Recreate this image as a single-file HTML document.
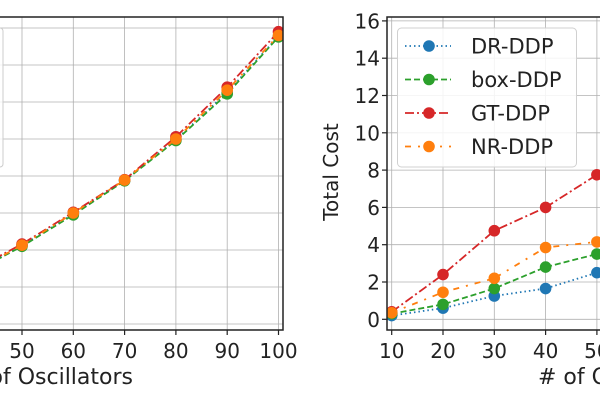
<!DOCTYPE html>
<html><head><meta charset="utf-8">
<style>
html,body{margin:0;padding:0;background:#fff;}
svg{display:block;font-family:"DejaVu Sans","Liberation Sans",sans-serif;}
</style></head>
<body>
<svg id="chart" width="600" height="403" viewBox="0 0 600 403" xmlns="http://www.w3.org/2000/svg">
<defs>
<clipPath id="clipL"><rect x="-60" y="17" width="343" height="313"/></clipPath>
<clipPath id="clipR"><rect x="387" y="17" width="300" height="313"/></clipPath>
</defs>
<g id="left"></g>
<g id="right"></g>
</svg>
<script>
// ---- data ----
const xCats = [10,20,30,40,50,60,70,80,90,100];
// left chart (values in gridline units, y-axis labels not visible)
const leftDR  = [0.2,0.5,0.9,1.38,2.12,2.97,3.88,4.98,6.26,7.78];
const leftBox = [0.2,0.5,0.9,1.36,2.1,2.95,3.87,4.96,6.22,7.76];
const leftGT  = [0.2,0.5,0.9,1.42,2.16,3.02,3.9,5.06,6.4,7.9];
const leftNR  = [0.2,0.5,0.9,1.38,2.13,3.0,3.89,5.0,6.32,7.8];
const leftXTicks = [40,50,60,70,80,90,100];
// right chart
const rightDR  = [0.2,0.6,1.25,1.65,2.5,3.2,4.0,4.8,5.6,6.5];
const rightBox = [0.3,0.8,1.65,2.8,3.5,4.3,5.2,6.0,7.0,8.0];
const rightGT  = [0.4,2.4,4.75,6.0,7.75,9.0,10.5,12.0,13.5,15.0];
const rightNR  = [0.35,1.45,2.2,3.85,4.15,5.0,6.0,7.0,8.0,9.0];
const rightYTicks = [0,2,4,6,8,10,12,14,16];
const rightXTicks = [10,20,30,40,50,60];
const seriesNames = ["DR-DDP","box-DDP","GT-DDP","NR-DDP"];

const NS="http://www.w3.org/2000/svg";
const colors=["#1f77b4","#2ca02c","#d62728","#ff7f0e"];
const dashes=["1.5,3","6,3","9,3,2,3","6,7,2,7"];
const FS=20;
const TFS=22;

function mk(tag,attrs,parent){const e=document.createElementNS(NS,tag);for(const k in attrs)e.setAttribute(k,attrs[k]);parent.appendChild(e);return e;}

const lx = v => 22 + (v-50)*5.13;
const ly = v => 324 - v*37;
const rx = v => 391.7 + (v-10)*5.13;
const ry = v => 319.3 - v*18.65;

function drawSeries(parent, xs, ys, X, Y, i, clip, name){
  const g=mk('g',{'clip-path':'url(#'+clip+')'},parent);
  
  
  const pts=xs.map((x,k)=>X(x)+','+Y(ys[k])).join(' ');
  const pl=mk('polyline',{points:pts,fill:'none',stroke:colors[i],'stroke-width':1.8,'stroke-dasharray':dashes[i]},g);
  
  
  xs.forEach((x,k)=>{
    const c=mk('circle',{cx:X(x),cy:Y(ys[k]),r:5.8,fill:colors[i]},g);
    
    
  });
}

// ---- left chart ----
const L=document.getElementById('left');
const gl=mk('g',{stroke:'#b0b0b0','stroke-width':0.8},L);


for(let v=0;v<=8;v++){mk('line',{x1:0,x2:283,y1:ly(v),y2:ly(v)},gl);}
leftXTicks.forEach(t=>{mk('line',{x1:lx(t),x2:lx(t),y1:17,y2:330},gl);});
const lleg=mk('rect',{x:-60,y:28,width:63,height:139,rx:3,fill:'#fff','fill-opacity':0.8,stroke:'#ccc','stroke-width':1},L);


[leftDR,leftBox,leftGT,leftNR].forEach((d,i)=>drawSeries(L,xCats,d,lx,ly,i,'clipL','left-series-'+seriesNames[i].toLowerCase()));
mk('path',{d:'M-5,17 H283 V330 H-5',fill:'none',stroke:'#222','stroke-width':1.5},L);
leftXTicks.forEach(t=>{
  mk('line',{x1:lx(t),x2:lx(t),y1:330,y2:335,stroke:'#222','stroke-width':1.2},L);
  const tx=mk('text',{x:lx(t),y:358,'text-anchor':'middle','font-size':FS,fill:'#222'},L);
  tx.textContent=t;
  
  
});
const lt=mk('text',{x:133,y:384,'text-anchor':'end','font-size':TFS,fill:'#222'},L);
lt.textContent='# of Oscillators';



// ---- right chart ----
const R=document.getElementById('right');
const gr=mk('g',{stroke:'#b0b0b0','stroke-width':0.8},R);


rightYTicks.forEach(t=>{mk('line',{x1:387,x2:600,y1:ry(t),y2:ry(t)},gr);});
rightXTicks.forEach(t=>{mk('line',{x1:rx(t),x2:rx(t),y1:17,y2:330},gr);});
[rightDR,rightBox,rightGT,rightNR].forEach((d,i)=>drawSeries(R,xCats,d,rx,ry,i,'clipR','right-series-'+seriesNames[i].toLowerCase()));
mk('path',{d:'M605,17 H387 V330 H605',fill:'none',stroke:'#222','stroke-width':1.5},R);
rightYTicks.forEach(t=>{
  mk('line',{x1:382,x2:387,y1:ry(t),y2:ry(t),stroke:'#222','stroke-width':1.2},R);
  const tx=mk('text',{x:380,y:ry(t)+7.5,'text-anchor':'end','font-size':FS,fill:'#222'},R);
  tx.textContent=t;
  
  
});
rightXTicks.forEach(t=>{
  mk('line',{x1:rx(t),x2:rx(t),y1:330,y2:335,stroke:'#222','stroke-width':1.2},R);
  const tx=mk('text',{x:rx(t),y:358,'text-anchor':'middle','font-size':FS,fill:'#222'},R);
  tx.textContent=t;
  
  
});
const yt=mk('text',{x:0,y:0,transform:'translate(338,172) rotate(-90)','text-anchor':'middle','font-size':FS,fill:'#222'},R);
yt.textContent='Total Cost';


const xt=mk('text',{x:538,y:384,'text-anchor':'start','font-size':TFS,fill:'#222'},R);
xt.textContent='# of Oscillators';



// legend
const lg=mk('g',{},R);


mk('rect',{x:397.5,y:28,width:179,height:139,rx:4,fill:'#fff','fill-opacity':0.85,stroke:'#d0d0d0','stroke-width':1},lg);
seriesNames.forEach((n,i)=>{
  const y=46+i*33.5;
  const e=mk('g',{},lg);
  
  
  mk('line',{x1:405,x2:451,y1:y,y2:y,stroke:colors[i],'stroke-width':1.8,'stroke-dasharray':dashes[i]},e);
  mk('circle',{cx:429,cy:y,r:5.8,fill:colors[i]},e);
  const t=mk('text',{x:471,y:y+7.5,'font-size':21,fill:'#222'},e);
  t.textContent=n;
});
</script>
</body></html>
